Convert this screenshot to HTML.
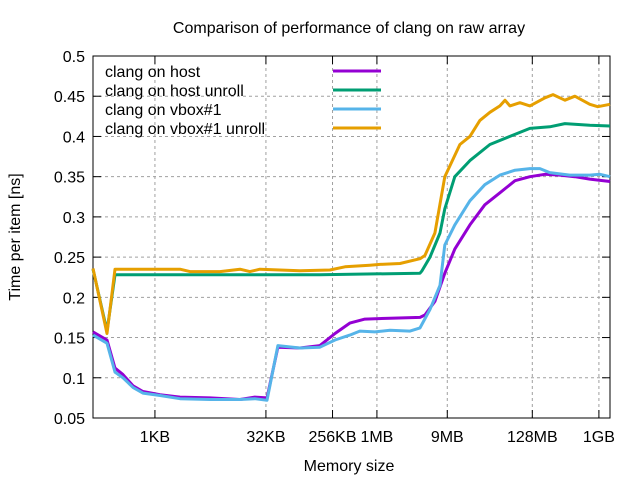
<!DOCTYPE html>
<html><head><meta charset="utf-8"><style>
body{margin:0;background:#fff}
svg text{font-family:"Liberation Sans",sans-serif;font-size:16px;fill:#000}
</style></head><body>
<svg id="chart" width="640" height="480">
<text x="349" y="33" text-anchor="middle">Comparison of performance of clang on raw array</text>
<text transform="translate(20,237) rotate(-90)" text-anchor="middle">Time per item [ns]</text>
<text x="349" y="471" text-anchor="middle">Memory size</text>
<g id="grid"></g><g id="axes"></g><g id="series"></g><g id="legend"></g>
</svg>
<script>
const yTicks=[0.05,0.1,0.15,0.2,0.25,0.3,0.35,0.4,0.45,0.5];
const yTickLabels=["0.05","0.1","0.15","0.2","0.25","0.3","0.35","0.4","0.45","0.5"];
const xTicks=[10,15,18,20,23.17,27,30];
const xTickLabels=["1KB","32KB","256KB","1MB","9MB","128MB","1GB"];
const seriesNames=["clang on host","clang on host unroll","clang on vbox#1","clang on vbox#1 unroll"];
const seriesColors=["#9400d3","#009e73","#56b4e9","#e69f00"];
const hostX=[7.21,7.84,8.2,8.56,9.01,9.46,10.23,11.13,12.48,13.83,14.5,15.05,15.54,16.53,17.43,18.11,18.78,19.46,20.59,21.94,22.16,22.61,23.06,23.51,24.19,24.86,25.54,26.22,26.89,27.57,28.24,28.92,29.59,30.5];
const hostY=[0.157,0.147,0.112,0.104,0.090,0.083,0.079,0.076,0.075,0.073,0.076,0.075,0.138,0.137,0.140,0.155,0.168,0.173,0.174,0.175,0.178,0.195,0.23,0.26,0.29,0.315,0.33,0.345,0.35,0.353,0.352,0.35,0.347,0.344];
const hostUnrollX=[7.21,7.84,8.2,12.48,17.43,21.94,22.03,22.39,22.84,23.06,23.51,24.19,25.09,25.99,26.89,27.79,28.47,29.59,30.5];
const hostUnrollY=[0.235,0.158,0.228,0.228,0.228,0.230,0.233,0.25,0.28,0.31,0.35,0.37,0.39,0.40,0.41,0.412,0.416,0.414,0.413];
const vboxX=[7.21,7.84,8.2,8.56,9.01,9.46,10.23,11.13,12.48,13.83,14.5,15.05,15.54,16.53,17.43,18.11,18.78,19.23,19.91,20.59,21.49,21.94,22.39,22.84,23.06,23.51,24.19,24.86,25.54,26.22,26.89,27.34,27.79,28.69,29.59,30.05,30.5];
const vboxY=[0.153,0.143,0.107,0.100,0.088,0.081,0.078,0.074,0.073,0.073,0.074,0.072,0.140,0.137,0.138,0.147,0.153,0.158,0.157,0.159,0.158,0.162,0.185,0.215,0.265,0.29,0.32,0.34,0.352,0.358,0.36,0.36,0.355,0.352,0.352,0.353,0.35];
const vboxUnrollX=[7.21,7.84,8.2,11.13,11.58,12.93,13.83,14.28,14.73,16.53,17.88,18.56,19.68,20.14,21.04,21.94,22.16,22.61,23.06,23.74,24.19,24.64,25.09,25.54,25.77,25.99,26.44,26.89,27.57,27.93,28.47,28.92,29.59,29.95,30.5];
const vboxUnrollY=[0.236,0.155,0.235,0.235,0.232,0.232,0.235,0.232,0.235,0.233,0.234,0.238,0.24,0.241,0.242,0.248,0.252,0.28,0.35,0.39,0.40,0.42,0.43,0.438,0.445,0.438,0.442,0.438,0.448,0.452,0.445,0.45,0.44,0.437,0.44];
const allX=[hostX,hostUnrollX,vboxX,vboxUnrollX];
const allY=[hostY,hostUnrollY,vboxY,vboxUnrollY];

const L=93,R=610,T=56,B=418;
const xMin=7.21,xMax=30.5,yMin=0.05,yMax=0.5;
function xs(v){return L+(v-xMin)/(xMax-xMin)*(R-L);}
function ys(v){return B-(v-yMin)/(yMax-yMin)*(B-T);}
const NS="http://www.w3.org/2000/svg";
function mk(tag,attrs,parent){const e=document.createElementNS(NS,tag);for(const k in attrs)e.setAttribute(k,attrs[k]);parent.appendChild(e);return e;}
const grid=document.getElementById('grid'),axes=document.getElementById('axes'),ser=document.getElementById('series'),leg=document.getElementById('legend');
yTicks.forEach((v,i)=>{const y=ys(v);
 if(i>0&&i<yTicks.length-1){const g=mk('line',{x1:L,x2:R,y1:y,y2:y,stroke:'#a0a0a0','stroke-dasharray':'3,3'},grid);
 
 }
 mk('line',{x1:L,x2:L+8,y1:y,y2:y,stroke:'#000'},axes);
 mk('line',{x1:R,x2:R-8,y1:y,y2:y,stroke:'#000'},axes);
 const t=mk('text',{x:L-8,y:y+6,'text-anchor':'end'},axes);t.textContent=yTickLabels[i];
 
 
});
xTicks.forEach((v,i)=>{const x=xs(v);
 const g=mk('line',{x1:x,x2:x,y1:T,y2:B,stroke:'#a0a0a0','stroke-dasharray':'3,3'},grid);
 
 
 mk('line',{x1:x,x2:x,y1:B,y2:B-8,stroke:'#000'},axes);
 mk('line',{x1:x,x2:x,y1:T,y2:T+8,stroke:'#000'},axes);
 const t=mk('text',{x:x,y:B+24,'text-anchor':'middle'},axes);t.textContent=xTickLabels[i];
 
 
});
const frame=mk('rect',{x:L,y:T,width:R-L,height:B-T,fill:'none',stroke:'#000'},axes);


allX.forEach((xa,s)=>{
 const pts=xa.map((x,i)=>xs(x).toFixed(1)+','+ys(allY[s][i]).toFixed(1)).join(' ');
 const p=mk('polyline',{points:pts,fill:'none',stroke:seriesColors[s],'stroke-width':3,'stroke-linejoin':'round'},ser);
 
 
 const ly=71+s*19;
 const t=mk('text',{x:105,y:ly+6},leg);t.textContent=seriesNames[s];
 
 
 const ln=mk('line',{x1:333,x2:381,y1:ly,y2:ly,stroke:seriesColors[s],'stroke-width':3},leg);
 
 
});
</script>
</body></html>
